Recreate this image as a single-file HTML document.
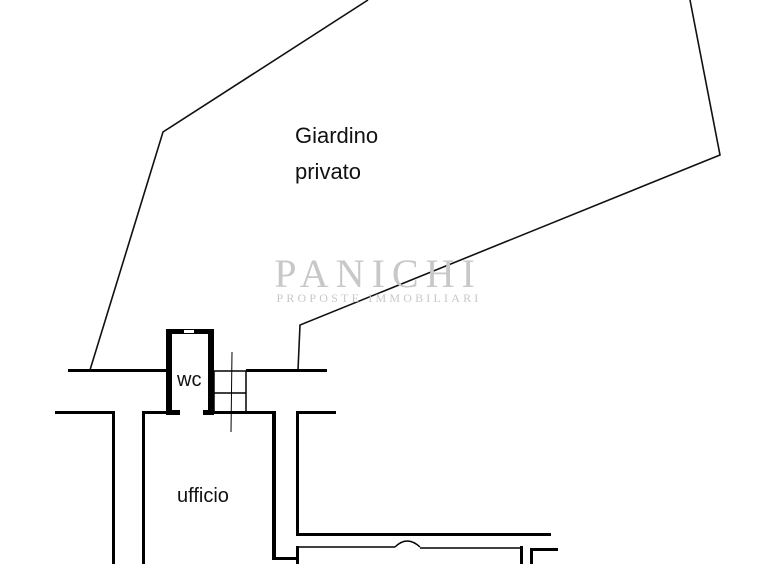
<!DOCTYPE html>
<html><head><style>
body{margin:0;background:#fff;width:758px;height:564px;overflow:hidden}
</style></head><body>
<svg width="758" height="564" viewBox="0 0 758 564" xmlns="http://www.w3.org/2000/svg">
<g fill="none" stroke="#111" stroke-width="1.6">
<polyline points="90,370 163,132 368,0"/>
<polyline points="690,0 720,155 300,325 298,370"/>
</g>
<text x="378" y="287" font-family="Liberation Serif, serif" font-size="40" fill="#c8c8c8" text-anchor="middle" letter-spacing="7">PANICHI</text>
<text x="379" y="302" font-family="Liberation Serif, serif" font-size="12" fill="#c8c8c8" text-anchor="middle" letter-spacing="3.2">PROPOSTE IMMOBILIARI</text>
<g fill="#000">
<rect x="68" y="369" width="98" height="3"/>
<rect x="246" y="369" width="81" height="3"/>
<rect x="166" y="329" width="6" height="86"/>
<rect x="208" y="329" width="6" height="86"/>
<rect x="166" y="329" width="48" height="5"/>
<rect x="166" y="410" width="14" height="5"/>
<rect x="203" y="410" width="11" height="5"/>
<rect x="55" y="411" width="59" height="3"/>
<rect x="112" y="411" width="3" height="153"/>
<rect x="142" y="411" width="24" height="3"/>
<rect x="142" y="411" width="3" height="153"/>
<rect x="203" y="411" width="72" height="3"/>
<rect x="272" y="411" width="4" height="149"/>
<rect x="272" y="557" width="25" height="3"/>
<rect x="296" y="411" width="40" height="3"/>
<rect x="296" y="411" width="3" height="124"/>
<rect x="296" y="533" width="255" height="3"/>
<rect x="296" y="546" width="3" height="18"/>
<rect x="520" y="546" width="3" height="18"/>
<rect x="530" y="548" width="3" height="16"/>
<rect x="530" y="548" width="28" height="3"/>
</g>
<rect x="184" y="330" width="10" height="3" fill="#fff"/>
<g fill="none" stroke="#000" stroke-width="1.5">
<polyline points="296,547 395,547"/>
<path d="M395,547 Q407,535 420,547"/>
<polyline points="420,548 522,548"/>
<rect x="214" y="371" width="32" height="41"/>
<line x1="214" y1="393" x2="246" y2="393"/>
<line x1="232" y1="352" x2="231" y2="432" stroke-width="1"/>
</g>
<g font-family="Liberation Sans, sans-serif" fill="#111">
<text x="295" y="143" font-size="22">Giardino</text>
<text x="295" y="179" font-size="22">privato</text>
<text x="177" y="386" font-size="20">wc</text>
<text x="177" y="502" font-size="20">ufficio</text>
</g>
</svg>
</body></html>
